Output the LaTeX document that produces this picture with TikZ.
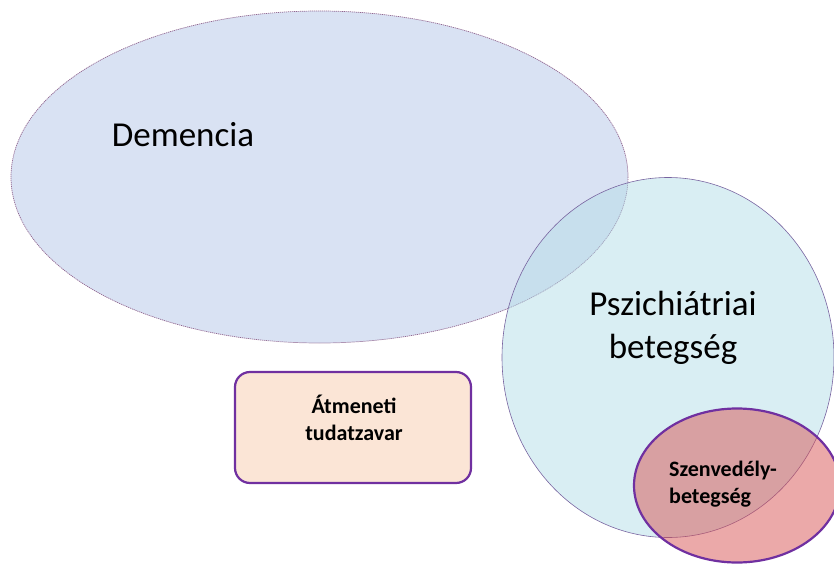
\documentclass[tikz,border=0pt]{standalone}
\usepackage{fontspec}
\setmainfont{Carlito}
\begin{document}
\begin{tikzpicture}[x=1pt,y=-1pt,
  dem/.style={draw=black!45!violet!60, dash pattern=on 1.2pt off 0.8pt, line width=0.7pt, fill={rgb,255:red,180;green,197;blue,231}, fill opacity=0.5},
  psy/.style={draw={rgb,255:red,120;green,100;blue,160}, line width=0.6pt, fill={rgb,255:red,180;green,222;blue,232}, fill opacity=0.5},
  szv/.style={draw={rgb,255:red,112;green,48;blue,160}, line width=2.2pt, fill={rgb,255:red,215;green,83;blue,83}, fill opacity=0.5},
  boxst/.style={draw={rgb,255:red,112;green,48;blue,160}, line width=2.2pt, fill={rgb,255:red,251;green,229;blue,214}, rounded corners=15pt},
  big/.style={font=\fontsize{35}{43}\selectfont, align=center, text opacity=1},
  small/.style={font=\bfseries\fontsize{22}{27}\selectfont, text opacity=1}
]
\useasboundingbox (0,0) rectangle (834,564);
\draw[dem] (319.5,177) ellipse [x radius=308.5, y radius=166];
\draw[psy] (668,357.5) ellipse [x radius=166, y radius=180];
\draw[szv] (737,485.5) ellipse [x radius=103, y radius=77];
\draw[boxst] (235,372) rectangle (471,483);
\node[big] (demtxt) at (183,135) {Demencia};
\node[big] (psytxt) at (673,328) {Pszichiátriai\\betegség};
\node[small, align=center] (atm) at (354,418) {Átmeneti\\tudatzavar};
\node[small, align=left] (sz) at (723,484) {Szenvedély-\\betegség};
\end{tikzpicture}
\end{document}
